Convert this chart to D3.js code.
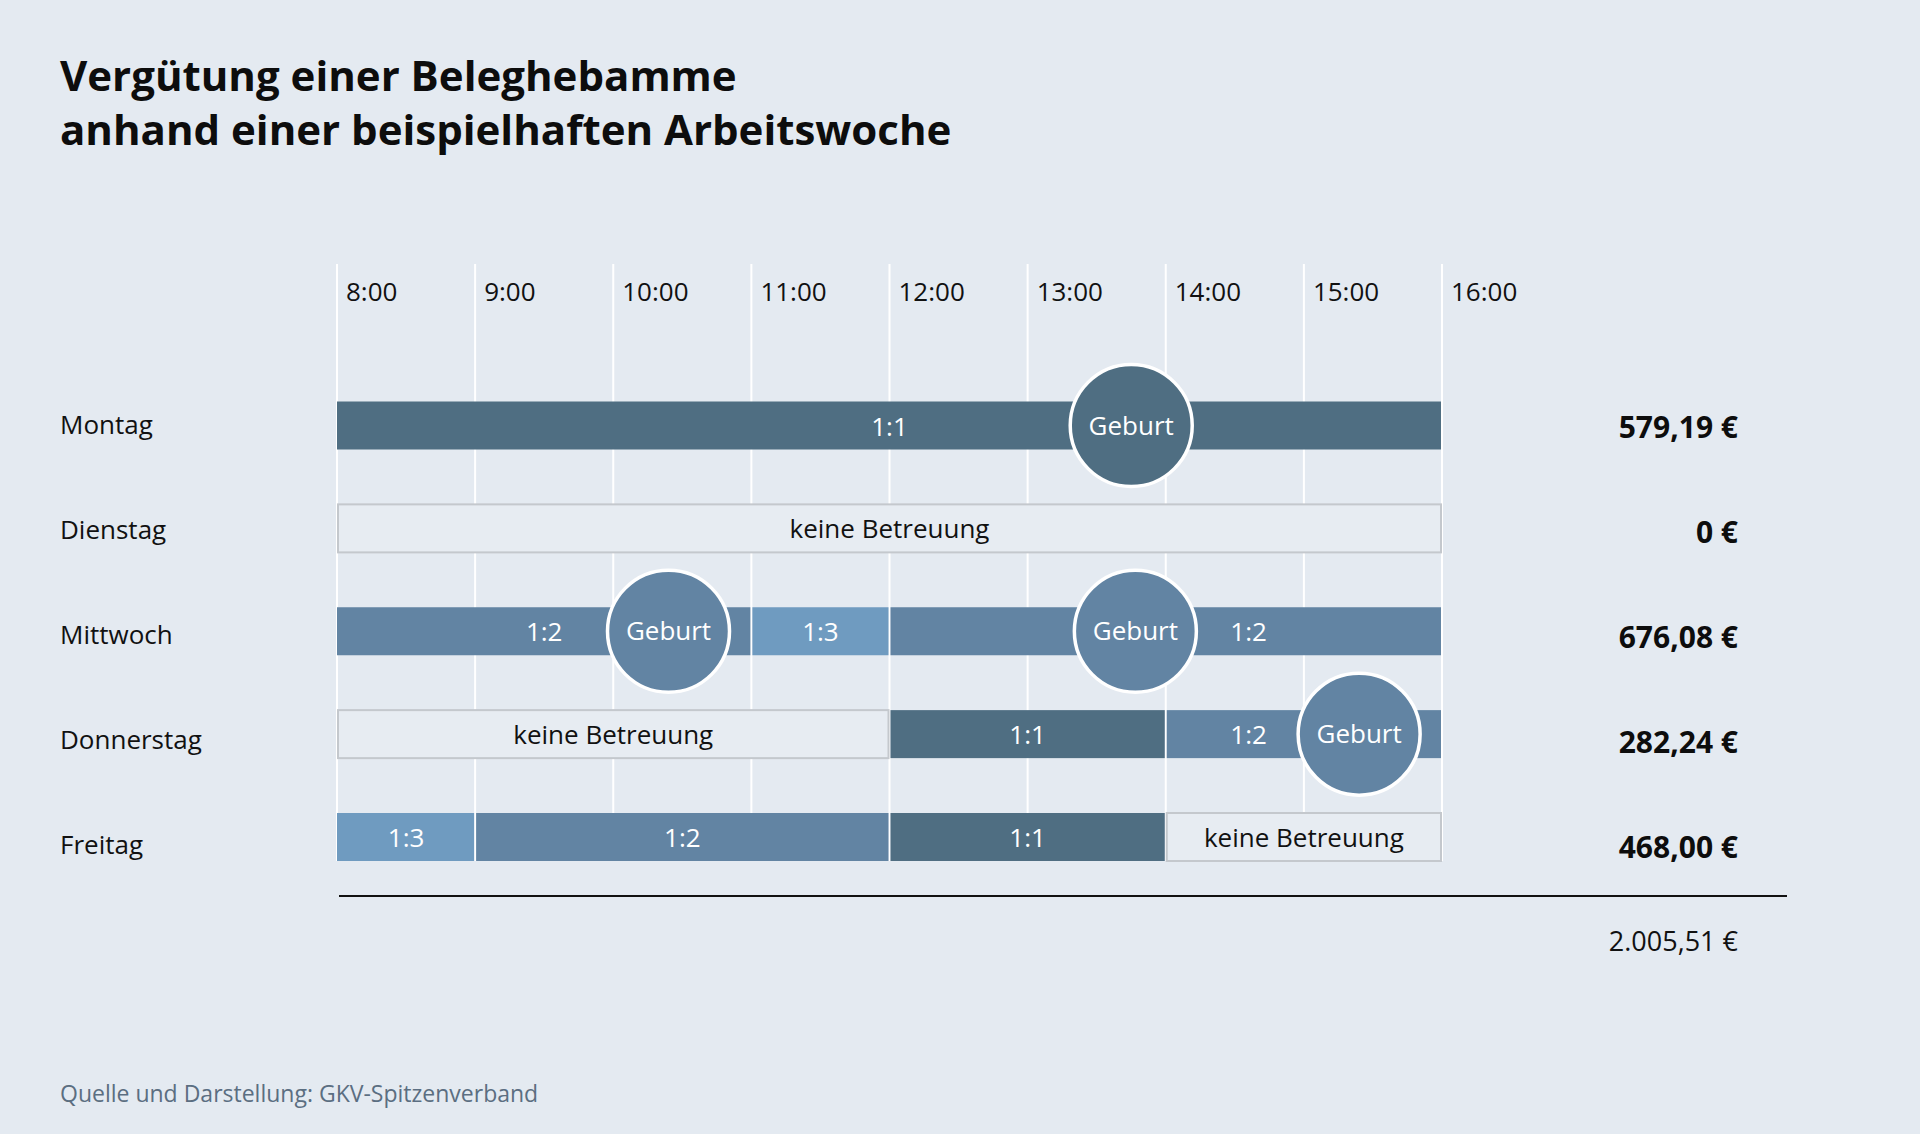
<!DOCTYPE html>
<html>
<head>
<meta charset="utf-8">
<script src="https://cdn.jsdelivr.net/npm/d3@7"></script>
<style>
    body { margin: 0; background: #e4eaf1; }
    svg text { font-family: "Open Sans", sans-serif; }
</style>
</head>
<body>
<div id="chart" style="width:1920px;height:1134px;"></div>
<script>
// days, time axis and amounts
const days = ["Montag", "Dienstag", "Mittwoch", "Donnerstag", "Freitag"];
const hours = [8, 9, 10, 11, 12, 13, 14, 15, 16];
const hourLabels = ["8:00", "9:00", "10:00", "11:00", "12:00", "13:00", "14:00", "15:00", "16:00"];
const amounts = ["579,19 €", "0 €", "676,08 €", "282,24 €", "468,00 €"];
const total = "2.005,51 €";

// care blocks per day (rate = Betreuungsschlüssel)
const segments = [
    {day: "Montag", start: 8, end: 16, rate: "1:1"},
    {day: "Dienstag", start: 8, end: 16, rate: "keine Betreuung"},
    {day: "Mittwoch", start: 8, end: 11, rate: "1:2"},
    {day: "Mittwoch", start: 11, end: 12, rate: "1:3"},
    {day: "Mittwoch", start: 12, end: 16, rate: "1:2", labelAt: 14.6},
    {day: "Donnerstag", start: 8, end: 12, rate: "keine Betreuung"},
    {day: "Donnerstag", start: 12, end: 14, rate: "1:1"},
    {day: "Donnerstag", start: 14, end: 16, rate: "1:2", labelAt: 14.6},
    {day: "Freitag", start: 8, end: 9, rate: "1:3"},
    {day: "Freitag", start: 9, end: 12, rate: "1:2"},
    {day: "Freitag", start: 12, end: 14, rate: "1:1"},
    {day: "Freitag", start: 14, end: 16, rate: "keine Betreuung"}
];

// births (circle sits on the block of the same rate)
const births = [
    {day: "Montag", time: 13.75, rate: "1:1"},
    {day: "Mittwoch", time: 10.4, rate: "1:2"},
    {day: "Mittwoch", time: 13.78, rate: "1:2"},
    {day: "Donnerstag", time: 15.4, rate: "1:2"}
];

class WeekVis {

    constructor(parentElement) {
        this.parentElement = parentElement;
        this.initVis();
    }

    initVis() {
        let vis = this;

        vis.width = 1920;
        vis.height = 1134;

        vis.svg = d3.select("#" + vis.parentElement).append("svg")
            .attr("width", vis.width)
            .attr("height", vis.height);

        vis.x = d3.scaleLinear().domain([8, 16]).range([337, 1442]);
        // bars and the text columns are spaced a little differently
        vis.y = d3.scalePoint().domain(days).range([425.5, 837]);
        vis.yText = d3.scalePoint().domain(days).range([425, 845]);
        vis.barH = 48;
        vis.r = 61;

        vis.colors = {
            "1:1": "#4f6e82",
            "1:2": "#6284a3",
            "1:3": "#6f9bc0"
        };

        // title
        vis.svg.append("text")
            .attr("x", 60).attr("y", 91)
            .attr("font-size", 42).attr("font-weight", 700).attr("fill", "#0d0d0d")
            .text("Vergütung einer Beleghebamme");
        vis.svg.append("text")
            .attr("x", 60).attr("y", 145)
            .attr("font-size", 42).attr("font-weight", 700).attr("fill", "#0d0d0d")
            .text("anhand einer beispielhaften Arbeitswoche");

        // gridlines + hour labels
        vis.svg.append("g").selectAll("line")
            .data(hours).enter().append("line")
            .attr("x1", d => vis.x(d)).attr("x2", d => vis.x(d))
            .attr("y1", 264).attr("y2", vis.y("Freitag") + vis.barH / 2)
            .attr("stroke", "#ffffff").attr("stroke-width", 2);

        vis.svg.append("g").selectAll("text")
            .data(hours).enter().append("text")
            .attr("x", d => vis.x(d) + 9).attr("y", 292)
            .attr("dy", "0.35em")
            .attr("font-size", 26).attr("fill", "#111")
            .text((d, i) => hourLabels[i]);

        // day labels
        vis.svg.append("g").selectAll("text")
            .data(days).enter().append("text")
            .attr("x", 60).attr("y", d => vis.yText(d))
            .attr("dy", "0.35em")
            .attr("font-size", 26).attr("fill", "#111")
            .text(d => d);

        // blocks
        vis.blocks = vis.svg.append("g").selectAll("g")
            .data(segments).enter().append("g");

        vis.blocks.append("rect")
            .attr("x", d => d.rate.length > 3 ? vis.x(d.start) + 1 : vis.x(d.start) + (d.start === 8 ? 0 : 1))
            .attr("width", d => d.rate.length > 3 ? vis.x(d.end) - vis.x(d.start) - 2 : vis.x(d.end) - vis.x(d.start) - (d.start === 8 ? 1 : 2))
            .attr("y", d => vis.y(d.day) - vis.barH / 2)
            .attr("height", vis.barH)
            .attr("fill", d => vis.colors[d.rate] || "#e7ecf2")
            .attr("stroke", d => vis.colors[d.rate] ? "none" : "#c4c8cd")
            .attr("stroke-width", 2);

        vis.blocks.append("text")
            .attr("x", d => vis.x(d.labelAt !== undefined ? d.labelAt : (d.start + d.end) / 2))
            .attr("y", d => vis.y(d.day) + 1)
            .attr("dy", "0.35em")
            .attr("text-anchor", "middle")
            .attr("font-size", 26)
            .attr("fill", d => vis.colors[d.rate] ? "#ffffff" : "#111")
            .text(d => d.rate);

        // births
        vis.circles = vis.svg.append("g").selectAll("g")
            .data(births).enter().append("g")
            .attr("transform", d => "translate(" + vis.x(d.time) + "," + vis.y(d.day) + ")");

        vis.circles.append("circle")
            .attr("r", vis.r)
            .attr("fill", d => vis.colors[d.rate])
            .attr("stroke", "#ffffff")
            .attr("stroke-width", 3.5);

        vis.circles.append("text")
            .attr("text-anchor", "middle")
            .attr("dy", "0.35em")
            .attr("font-size", 26).attr("fill", "#ffffff")
            .text("Geburt");

        // amounts
        vis.svg.append("g").selectAll("text")
            .data(days).enter().append("text")
            .attr("x", 1738).attr("y", d => vis.yText(d) + 2)
            .attr("dy", "0.35em")
            .attr("text-anchor", "end")
            .attr("font-size", 30).attr("font-weight", 700).attr("fill", "#0d0d0d")
            .text((d, i) => amounts[i]);

        // sum line + total
        vis.svg.append("line")
            .attr("x1", 339).attr("x2", 1787)
            .attr("y1", 896).attr("y2", 896)
            .attr("stroke", "#111").attr("stroke-width", 2);

        vis.svg.append("text")
            .attr("x", 1738).attr("y", 942)
            .attr("dy", "0.35em")
            .attr("text-anchor", "end")
            .attr("font-size", 27).attr("fill", "#111")
            .text(total);

        // source
        vis.svg.append("text")
            .attr("x", 60).attr("y", 1094)
            .attr("dy", "0.35em")
            .attr("font-size", 23).attr("fill", "#5b6e81")
            .text("Quelle und Darstellung: GKV-Spitzenverband");
    }
}

new WeekVis("chart");
</script>
</body>
</html>
